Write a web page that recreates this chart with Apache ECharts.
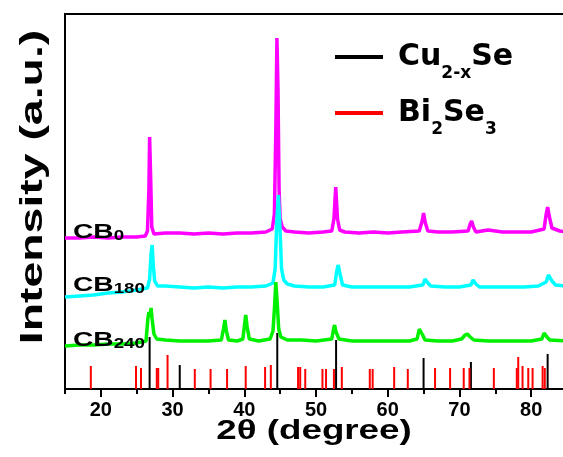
<!DOCTYPE html>
<html lang="en">
<head>
    <meta charset="UTF-8">
    <title>XRD</title>
    <script src="https://cdn.jsdelivr.net/npm/echarts@6/dist/echarts.min.js"></script>
    <style>
        html, body { margin: 0; padding: 0; background: #fff; }
        #xrd { width: 563px; height: 457px; }
    </style>
</head>
<body>
<div id="xrd"></div>
<script type="text/javascript">
    // 衍射图谱 [2theta, 强度]，强度为任意单位（从图上读的）
    var cb0 = [[15,151],[17,151],[19,152],[21,151],[23,152],[25,152],[26.2,153],[26.5,158],[26.7,200],[26.8,252],[26.95,210],[27.1,162],[27.4,155],
        [29,156],[31,156],[33,155],[35,156],[37,155],[39,156],[41,156],[43,157],[43.9,160],[44.2,175],[44.4,260],[44.55,351],[44.7,300],[44.85,200],
        [45.0,170],[45.3,162],[45.8,158],[47,157],[49,156],[51,157],[52.2,158],[52.5,170],[52.75,202],[53.0,170],[53.3,159],[54,157],[56,156],
        [58,157],[60,156],[62,157],[64.4,158],[64.8,168],[65.0,176],[65.25,166],[65.6,158],[67,157],[69,157],[71.2,158],[71.5,165],[71.7,168],
        [71.95,162],[72.3,157],[74,159],[76,157],[78,157],[80,157],[81.8,160],[82.1,175],[82.3,182],[82.55,172],[82.9,161],[84,158],[85,157]];

    var cb180 = [[15,92],[17,93],[19,94],[21,96],[23,97],[25,99],[26.5,101],[26.8,110],[27.0,135],[27.15,144],[27.3,125],[27.5,108],[27.9,103],
        [29,103],[31,102],[33,101],[35,102],[37,101],[39,102],[41,102],[43,103],[44.0,106],[44.3,120],[44.55,170],[44.75,194],[44.95,165],
        [45.2,120],[45.5,109],[46,105],[47,103],[49,102],[51,102],[52.6,104],[52.9,118],[53.1,124],[53.35,115],[53.7,104],[55,102],[57,102],
        [59,102],[61,102],[63,102],[64.9,104],[65.2,110],[65.35,111],[65.6,106],[66,103],[68,102],[70,102],[71.6,104],[71.9,109],[72.05,110],
        [72.3,105],[72.8,102],[75,102],[77,102],[79,102],[81,103],[82.1,107],[82.4,114],[82.6,113],[82.9,108],[83.4,104],[85,103]];

    var cb240 = [[15,43],[17,44],[19,44],[21,45],[23,45],[25,46],[26.3,48],[26.55,70],[26.7,77],[26.85,72],[27.0,81],[27.15,70],[27.4,55],
        [27.8,50],[29,49],[31,48],[33,48],[35,48],[36.8,49],[37.1,60],[37.3,69],[37.5,58],[37.8,49],[39,48],[39.8,50],[40.05,65],[40.2,74],
        [40.4,62],[40.7,50],[42,48],[43.6,50],[44.0,58],[44.2,80],[44.4,107],[44.6,85],[44.8,60],[45.1,52],[46,49],[48,49],[50,48],[52.2,50],
        [52.45,60],[52.6,64],[52.8,57],[53.2,50],[55,48],[57,48],[59,48],[61,48],[63,48],[64.1,50],[64.4,60],[64.55,62],[64.8,55],[65.2,49],
        [67,48],[69,48],[70.3,50],[70.8,54],[71.1,55],[71.5,52],[72,49],[74,48],[76,48],[78,48],[80,48],[81.5,50],[81.8,56],[81.95,57],
        [82.2,52],[82.6,49],[85,48]];

    // 标准卡片的峰位和相对高度
    var cuPos = [26.8, 31.0, 44.6, 52.8, 65.0, 71.6, 82.3];
    var cuH = [52, 24, 56, 49, 31, 27, 35];
    var biPos = [18.6, 24.9, 25.6, 27.8, 28.0, 29.3, 33.1, 35.3, 37.6, 40.2, 42.9, 43.7, 47.5, 47.8, 48.5, 50.9, 51.4, 52.5, 53.6,
        57.5, 57.9, 60.9, 62.8, 66.6, 68.7, 70.6, 71.4, 74.8, 78.0, 78.2, 78.8, 79.6, 80.2, 81.6, 81.9];
    var biH = [23, 23, 21, 21, 21, 34, 20, 20, 20, 23, 22, 24, 22, 22, 20, 20, 20, 20, 22,
        20, 20, 22, 20, 21, 21, 21, 21, 21, 21, 32, 23, 21, 21, 23, 21];

    var xTicks = [20, 30, 40, 50, 60, 70, 80];

    function pairs(xs, ys) {
        var out = [];
        for (var i = 0; i < xs.length; i++) {
            out.push([xs[i], ys[i]]);
        }
        return out;
    }

    var myChart = echarts.init(document.getElementById('xrd'));
    var font = 'Liberation Sans, Arial, sans-serif';
    var wide = 'DejaVu Sans, sans-serif';

    var cbRich = {
        c: {fontFamily: font, fontWeight: 'bold', fontSize: 21, lineHeight: 22, fill: '#000'},
        s: {fontFamily: font, fontWeight: 'bold', fontSize: 14, lineHeight: 18, verticalAlign: 'bottom', fill: '#000'}
    };

    var option = {
        animation: false,
        backgroundColor: '#fff',
        grid: [
            // 主图，右边被裁掉了，所以宽度超出画布
            {left: 65, width: 502, top: 14, bottom: 68, outerBoundsMode: 'none', show: true, borderColor: '#000', borderWidth: 2},
            // 只用来画 20,30... 的长刻度和标签
            {left: 100.86, width: 466.14, top: 14, bottom: 68, outerBoundsMode: 'none'}
        ],
        legend: {
            data: ['Cu2-xSe', 'Bi2Se3'],
            orient: 'vertical',
            left: 335,
            top: 42,
            padding: 0,
            itemWidth: 48,
            itemHeight: 4,
            itemGap: 16,
            icon: 'rect',
            formatter: function (name) {
                if (name === 'Cu2-xSe') {
                    return '{a|Cu}{s|2-x}{b|Se}';
                }
                return '{a|Bi}{s|2}{b|Se}{s|3}';
            },
            textStyle: {
                rich: {
                    a: {fontFamily: wide, fontWeight: 'bold', fontSize: 30, lineHeight: 50, color: '#000', padding: [0, 0, 0, 10]},
                    b: {fontFamily: wide, fontWeight: 'bold', fontSize: 30, lineHeight: 50, color: '#000'},
                    s: {fontFamily: wide, fontWeight: 'bold', fontSize: 17, lineHeight: 10, verticalAlign: 'bottom', color: '#000'}
                }
            }
        },
        xAxis: [
            {
                type: 'value',
                gridIndex: 0,
                min: 15,
                max: 85,
                interval: 5,
                axisLine: {lineStyle: {color: '#000', width: 2}},
                axisTick: {length: 5, lineStyle: {color: '#000', width: 2}},
                axisLabel: {show: false},
                splitLine: {show: false}
            },
            {
                type: 'value',
                gridIndex: 1,
                min: 20,
                max: 85,
                interval: 10,
                axisLine: {show: false},
                axisTick: {length: 8, lineStyle: {color: '#000', width: 2}},
                axisLabel: {
                    margin: 11,
                    color: '#000',
                    fontFamily: font,
                    fontWeight: 'bold',
                    fontSize: 20,
                    formatter: function (v) {
                        return xTicks.indexOf(v) >= 0 ? String(v) : '';
                    }
                },
                splitLine: {show: false}
            }
        ],
        yAxis: [
            {
                type: 'value',
                gridIndex: 0,
                min: 0,
                max: 375,
                axisLine: {show: true, lineStyle: {color: '#000', width: 2}},
                axisTick: {show: false},
                axisLabel: {show: false},
                splitLine: {show: false}
            },
            {
                type: 'value',
                gridIndex: 1,
                min: 0,
                max: 375,
                show: false
            }
        ],
        series: [
            {name: 'CB0', type: 'line', data: cb0, showSymbol: false, lineStyle: {color: '#ff00ff', width: 3.5}, itemStyle: {color: '#ff00ff'}},
            {name: 'CB180', type: 'line', data: cb180, showSymbol: false, lineStyle: {color: '#00ffff', width: 3.5}, itemStyle: {color: '#00ffff'}},
            {name: 'CB240', type: 'line', data: cb240, showSymbol: false, lineStyle: {color: '#00f000', width: 3.5}, itemStyle: {color: '#00f000'}},
            {name: 'Cu2-xSe', type: 'bar', data: pairs(cuPos, cuH), barWidth: 2, itemStyle: {color: '#000'}},
            {name: 'Bi2Se3', type: 'bar', data: pairs(biPos, biH), barWidth: 2, barGap: '-100%', itemStyle: {color: '#ff0000'}}
        ],
        graphic: [
            {
                type: 'text', x: 33, y: 187, rotation: Math.PI / 2, scaleX: 1.45,
                style: {text: 'Intensity (a.u.)', font: 'bold 32px ' + font, fill: '#000', align: 'center', verticalAlign: 'middle'}
            },
            {
                type: 'text', x: 314, y: 432, scaleX: 1.36,
                style: {text: '2θ (degree)', font: 'bold 27px ' + font, fill: '#000', align: 'center', verticalAlign: 'middle'}
            },
            {
                type: 'text', x: 73, y: 232, scaleX: 1.34, z: 100,
                style: {text: '{c|CB}{s|0}', align: 'left', verticalAlign: 'middle', rich: cbRich}
            },
            {
                type: 'text', x: 73, y: 285, scaleX: 1.34, z: 100,
                style: {text: '{c|CB}{s|180}', align: 'left', verticalAlign: 'middle', rich: cbRich}
            },
            {
                type: 'text', x: 73, y: 340, scaleX: 1.34, z: 100,
                style: {text: '{c|CB}{s|240}', align: 'left', verticalAlign: 'middle', rich: cbRich}
            }
        ]
    };
    myChart.setOption(option);
</script>
</body>
</html>
